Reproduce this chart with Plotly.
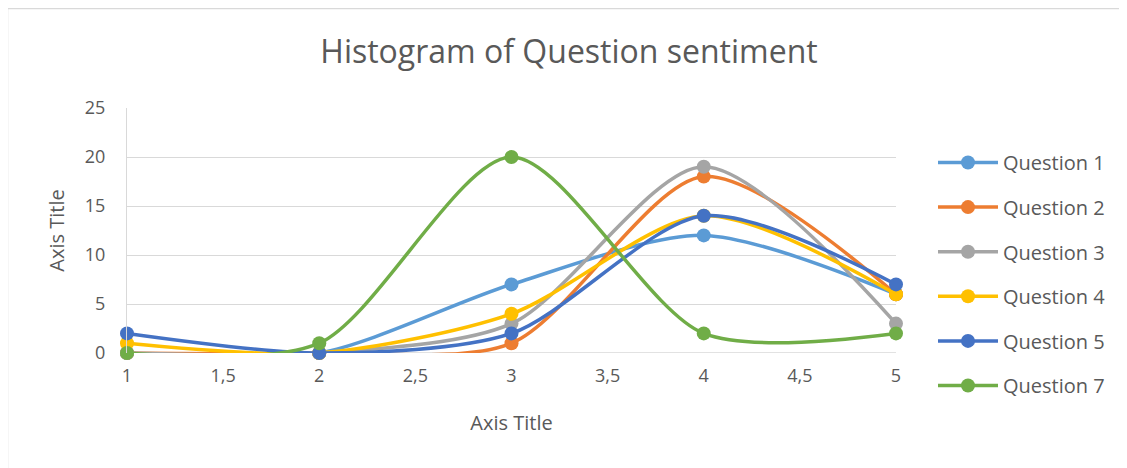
import plotly.graph_objects as go

x_vals = [1, 2, 3, 4, 5]
series_names = ["Question 1", "Question 2", "Question 3", "Question 4", "Question 5", "Question 7"]
q1 = [0, 0, 7, 12, 6]
q2 = [0, 0, 1, 18, 6]
q3 = [0, 0, 3, 19, 3]
q4 = [1, 0, 4, 14, 6]
q5 = [2, 0, 2, 14, 7]
q7 = [0, 1, 20, 2, 2]
series_values = [q1, q2, q3, q4, q5, q7]
colors = ["#5B9BD5", "#ED7D31", "#A5A5A5", "#FFC000", "#4472C4", "#70AD47"]
x_ticks = [1, 1.5, 2, 2.5, 3, 3.5, 4, 4.5, 5]
x_tick_text = ["1", "1,5", "2", "2,5", "3", "3,5", "4", "4,5", "5"]
y_ticks = [0, 5, 10, 15, 20, 25]

OFF = 8  # default page body margin
W, H = 1127 - OFF, 468 - OFF
L, T = 127 - OFF, 108 - OFF
pw, ph = 769, 245
R, B = W - L - pw, H - T - ph

fig = go.Figure()
for name, vals, c in zip(series_names, series_values, colors):
    fig.add_trace(go.Scatter(
        x=x_vals, y=vals, name=name, mode="lines+markers",
        line=dict(color=c, width=3.5, shape="spline", smoothing=0.8),
        marker=dict(color=c, size=14), cliponaxis=False, legendgroup=name,
    ))

font_family = "Open Sans, Liberation Sans, sans-serif"
txt = "#595959"

fig.update_layout(
    width=W, height=H,
    margin=dict(l=L, r=R, t=T, b=B, autoexpand=False),
    paper_bgcolor="white", plot_bgcolor="white",
    font=dict(family=font_family, color=txt, size=18),
    title=dict(text="Histogram of Question sentiment", x=(569 - OFF) / W, xanchor="center",
               y=1 - (52 - OFF) / H, yanchor="middle", font=dict(size=32, color=txt)),
    xaxis=dict(range=[1, 5], tickvals=x_ticks, ticktext=x_tick_text, showgrid=False,
               zeroline=False, showline=False, ticks="outside", ticklen=6, tickcolor="rgba(0,0,0,0)",
               tickfont=dict(size=18, color=txt), automargin=False,
               title=dict(text="Axis Title", font=dict(size=20, color=txt), standoff=30)),
    yaxis=dict(range=[0, 25], tickvals=y_ticks, showgrid=True, gridcolor="#D9D9D9", gridwidth=1.3,
               zeroline=False, showline=True, linecolor="#D9D9D9", linewidth=1.3,
               ticks="outside", ticklen=17, tickcolor="rgba(0,0,0,0)",
               tickfont=dict(size=18, color=txt), automargin=False,
               title=dict(text="Axis Title", font=dict(size=20, color=txt), standoff=14)),
    legend=dict(x=(933 - OFF) / W, y=1 - (143 - OFF) / H, xref="container", yref="container",
                xanchor="left", yanchor="top",
                font=dict(size=20, color=txt), tracegroupgap=15.6, itemwidth=60,
                bgcolor="rgba(0,0,0,0)"),
    showlegend=True,
)
try:
    fig.update_layout(legend_maxheight=1.0)
except Exception:
    pass

# zero baseline
fig.add_shape(type="line", xref="paper", yref="y", x0=0, x1=1, y0=0, y1=0,
              line=dict(color="#D9D9D9", width=1.3), layer="below")

# chart border
fig.add_shape(type="rect", xref="paper", yref="paper",
              x0=(-0.5 - L) / pw, x1=(1140 - L) / pw,
              y0=1 + (T - 480) / ph, y1=1 + (T - 0.5) / ph,
              line=dict(color="#D9D9D9", width=1.5), fillcolor="rgba(0,0,0,0)", layer="below")

fig.write_html("out.html")
